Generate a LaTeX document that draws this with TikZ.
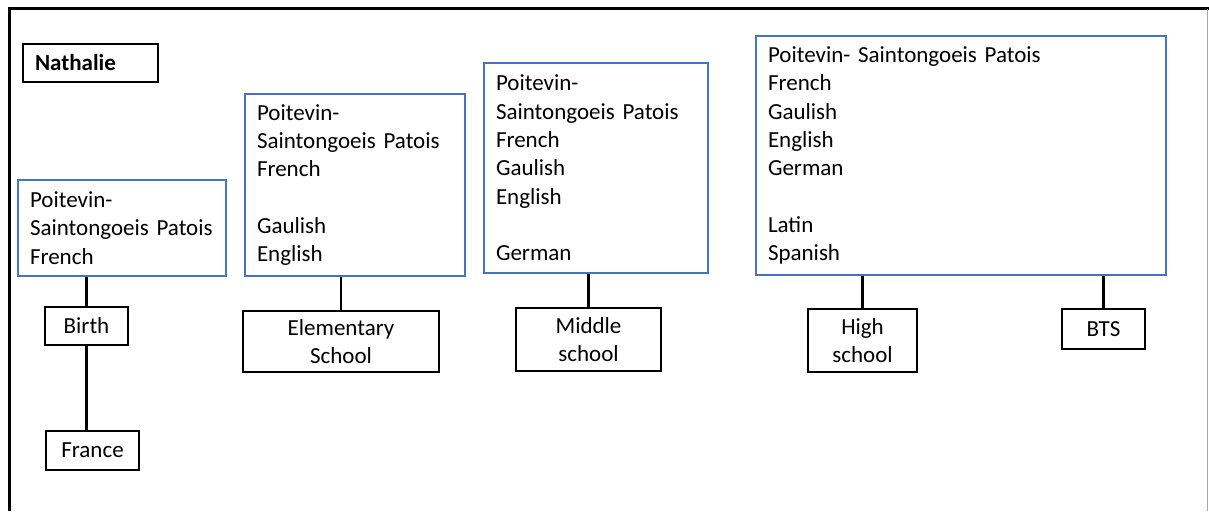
\documentclass[tikz,border=0pt]{standalone}
\usepackage{fontspec}
\setmainfont{Carlito}
\begin{document}
\begin{tikzpicture}[x=0.5pt,y=-0.5pt,
  every node/.style={font=\fontsize{11.5}{14.15}\selectfont},
  langbox/.style={draw=boxblue, line width=1pt, align=left, inner xsep=6pt, inner ysep=0pt},
  stagebox/.style={draw=black, line width=1.3pt, align=center, inner sep=0pt},
  namebox/.style={draw=black, line width=1.3pt, align=left, inner xsep=6pt, inner ysep=0pt},
  link/.style={draw=black, line width=1.3pt}]
\definecolor{boxblue}{HTML}{4472C4}
\useasboundingbox (0,0) rectangle (1209,511);

% page frame
\draw[line width=1.5pt, black] (9,511) -- (9,8) -- (1209,8);
\draw[line width=0.5pt, gray!70] (1207,9) -- (1207,511);

% name tag
\node[namebox, text width=55.5pt, minimum height=19pt] (name) at (90.5,63) {\textbf{Nathalie}};

% languages at each stage
\node[langbox, text width=92pt, minimum height=48pt] (birthlang) at (122,228)
  {Poitevin-\\Saintongoeis Patois\\French};
\node[langbox, text width=98pt, minimum height=91pt] (elemlang) at (355,185)
  {Poitevin-\\Saintongoeis Patois\\French\\\mbox{}\\Gaulish\\English};
\node[langbox, text width=100pt, minimum height=105pt] (midlang) at (596,168)
  {Poitevin-\\Saintongoeis Patois\\French\\Gaulish\\English\\\mbox{}\\German};
\node[langbox, text width=193pt, minimum height=119.5pt] (highlang) at (961,155.5)
  {Poitevin- Saintongoeis Patois\\French\\Gaulish\\English\\German\\\mbox{}\\Latin\\Spanish};

% stages
\node[stagebox, minimum width=41.5pt, minimum height=19pt] (birth) at (86.5,326) {Birth};
\node[stagebox, minimum width=46.5pt, minimum height=19.5pt] (france) at (92.5,450.5) {France};
\node[stagebox, minimum width=98pt, minimum height=30.5pt] (elem) at (341,341.5) {Elementary\\School};
\node[stagebox, minimum width=72.5pt, minimum height=31.5pt] (middle) at (588.5,339.5) {Middle\\school};
\node[stagebox, minimum width=54.5pt, minimum height=31.5pt] (high) at (862.5,340.5) {High\\school};
\node[stagebox, minimum width=41.5pt, minimum height=20pt] (bts) at (1103.5,329) {BTS};

% connectors
\draw[link] (birth.north |- birthlang.south) -- (birth.north);
\draw[link] (birth.south) -- (birth.south |- france.north);
\draw[link] (elem.north |- elemlang.south) -- (elem.north);
\draw[link] (middle.north |- midlang.south) -- (middle.north);
\draw[link] (high.north |- highlang.south) -- (high.north);
\draw[link] (bts.north |- highlang.south) -- (bts.north);
\end{tikzpicture}
\end{document}
